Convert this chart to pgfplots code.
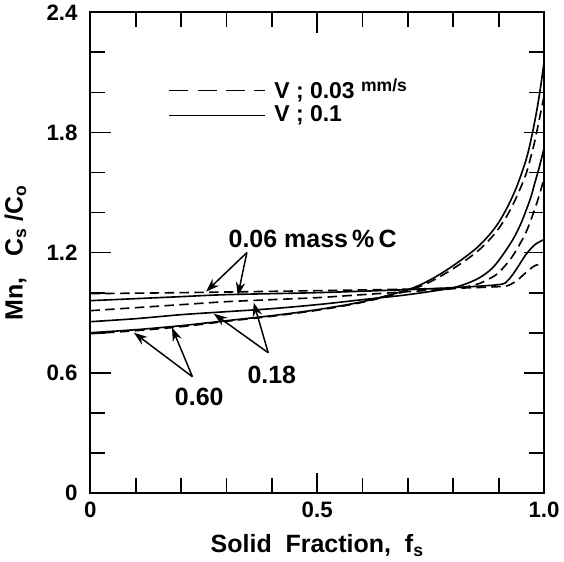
\documentclass[border=0pt]{standalone}
\usepackage{fontspec}
\setmainfont{Liberation Sans}
\usepackage{pgfplots}
\pgfplotsset{compat=1.18}
\usetikzlibrary{arrows.meta}
\begin{document}
\begin{tikzpicture}
\begin{axis}[
  scale only axis,
  width=336pt, height=356pt,
  xmin=0, xmax=1, ymin=0, ymax=2.4,
  xtick={0,0.5,1}, xticklabels={0,0.5,1.0},
  minor xtick={0.1,0.2,0.3,0.4,0.6,0.7,0.8,0.9},
  ytick={0,0.6,1.2,1.8,2.4}, yticklabels={0,0.6,1.2,1.8,2.4},
  minor ytick={0.2,0.4,0.8,1.0,1.4,1.6,2.0,2.2},
  tick align=inside,
  major tick length=15pt, minor tick length=11pt,
  tick style={line width=1.3pt, black},
  axis line style={line width=1.6pt},
  tick label style={font=\fontsize{16.5}{19}\selectfont\bfseries},
  /pgf/number format/assume math mode=true,
  xticklabel style={yshift=-3pt},
  yticklabel style={xshift=-6pt},
  xlabel={Solid\ \ Fraction,\ \ f\textsubscript{s}},
  ylabel={Mn,\ \ \ C\textsubscript{s} /C\textsubscript{o}},
  label style={font=\fontsize{18.5}{21}\selectfont\bfseries},
  xlabel style={yshift=-6pt},
  ylabel style={yshift=8pt},
  clip=false,
]
% 0.60 mass% C, V=0.1 (solid)
\addplot[black, line width=1.2pt, smooth] coordinates {
(0,0.80)(0.1,0.815)(0.2,0.835)(0.3,0.86)(0.4,0.885)(0.5,0.915)(0.6,0.955)(0.7,1.015)(0.75,1.065)(0.8,1.135)(0.85,1.22)(0.88,1.29)(0.9,1.35)(0.92,1.43)(0.94,1.53)(0.96,1.66)(0.97,1.75)(0.98,1.86)(0.99,1.99)(1.0,2.15)};
% 0.60 mass% C, V=0.03 (dashed)
\addplot[black, line width=1.2pt, smooth, dash pattern=on 7pt off 4pt] coordinates {
(0,0.795)(0.1,0.81)(0.2,0.83)(0.3,0.857)(0.4,0.882)(0.5,0.912)(0.6,0.952)(0.7,1.01)(0.75,1.055)(0.8,1.12)(0.85,1.2)(0.88,1.265)(0.9,1.32)(0.92,1.39)(0.94,1.48)(0.96,1.59)(0.97,1.67)(0.98,1.76)(0.99,1.87)(1.0,1.98)};
% 0.18 mass% C, solid
\addplot[black, line width=1.2pt, smooth] coordinates {
(0,0.855)(0.1,0.87)(0.2,0.89)(0.3,0.905)(0.4,0.92)(0.5,0.94)(0.6,0.965)(0.7,0.99)(0.8,1.025)(0.85,1.065)(0.88,1.11)(0.9,1.16)(0.93,1.26)(0.95,1.35)(0.97,1.47)(0.98,1.55)(0.99,1.63)(1.0,1.72)};
% 0.18 mass% C, dashed
\addplot[black, line width=1.2pt, smooth, dash pattern=on 7pt off 4pt] coordinates {
(0,0.91)(0.1,0.925)(0.2,0.94)(0.3,0.955)(0.4,0.965)(0.5,0.975)(0.6,0.99)(0.7,1.005)(0.8,1.02)(0.85,1.04)(0.88,1.07)(0.9,1.10)(0.93,1.18)(0.96,1.30)(0.98,1.42)(0.99,1.49)(1.0,1.57)};
% 0.06 mass% C, solid
\addplot[black, line width=1.2pt, smooth] coordinates {
(0,0.96)(0.1,0.97)(0.2,0.98)(0.3,0.99)(0.5,1.0)(0.7,1.015)(0.8,1.025)(0.9,1.04)(0.92,1.06)(0.94,1.12)(0.96,1.19)(0.98,1.24)(1.0,1.265)};
% 0.06 mass% C, dashed
\addplot[black, line width=1.2pt, smooth, dash pattern=on 7pt off 4pt] coordinates {
(0,0.995)(0.2,1.0)(0.5,1.01)(0.8,1.022)(0.9,1.03)(0.92,1.035)(0.94,1.06)(0.96,1.10)(0.98,1.135)(1.0,1.145)};
% legend
\draw[black, line width=1.2pt, dash pattern=on 14pt off 7pt] (axis cs:0.174,2.01) -- (axis cs:0.384,2.01);
\draw[black, line width=1.2pt] (axis cs:0.174,1.885) -- (axis cs:0.384,1.885);
\node[anchor=west, font=\fontsize{17}{19}\selectfont\bfseries, inner sep=0pt] at (axis cs:0.405,2.01) {V ; 0.03 \raisebox{5pt}{\fontsize{13}{15}\selectfont mm/s}};
\node[anchor=west, font=\fontsize{17}{19}\selectfont\bfseries, inner sep=0pt] at (axis cs:0.405,1.885) {V ; 0.1};
% annotations
\node[font=\fontsize{18.5}{21}\selectfont\bfseries] at (axis cs:0.49,1.27) {0.06 mass\,\%\,C};
\draw[-{Stealth[length=10pt,width=7pt]}, line width=1.1pt] (axis cs:0.345,1.2) -- (axis cs:0.255,1.005);
\draw[-{Stealth[length=10pt,width=7pt]}, line width=1.1pt] (axis cs:0.345,1.2) -- (axis cs:0.325,0.985);
\node[font=\fontsize{18.5}{21}\selectfont\bfseries] at (axis cs:0.40,0.59) {0.18};
\draw[-{Stealth[length=10pt,width=7pt]}, line width=1.1pt] (axis cs:0.392,0.70) -- (axis cs:0.272,0.895);
\draw[-{Stealth[length=10pt,width=7pt]}, line width=1.1pt] (axis cs:0.392,0.70) -- (axis cs:0.36,0.95);
\node[font=\fontsize{18.5}{21}\selectfont\bfseries] at (axis cs:0.24,0.48) {0.60};
\draw[-{Stealth[length=10pt,width=7pt]}, line width=1.1pt] (axis cs:0.225,0.58) -- (axis cs:0.096,0.80);
\draw[-{Stealth[length=10pt,width=7pt]}, line width=1.1pt] (axis cs:0.225,0.58) -- (axis cs:0.18,0.825);
\end{axis}
\end{tikzpicture}
\end{document}
